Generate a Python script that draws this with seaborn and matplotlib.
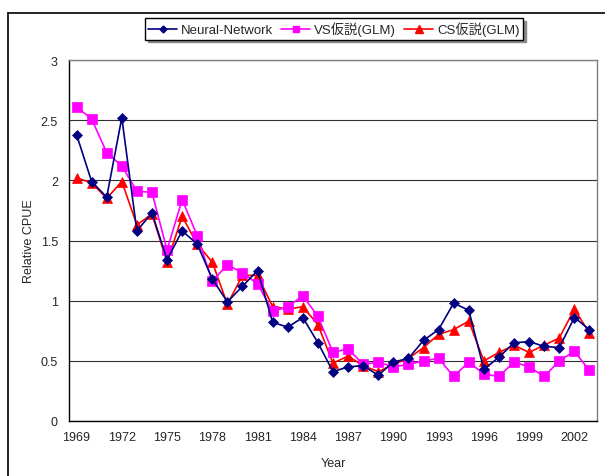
import pandas as pd
import matplotlib.pyplot as plt
import seaborn as sns
from matplotlib.lines import Line2D

years = list(range(1969, 2004))

neural_network = [2.38, 1.99, 1.86, 2.52, 1.58, 1.73, 1.34, 1.58, 1.47, 1.18,
                  0.99, 1.12, 1.25, 0.82, 0.78, 0.86, 0.65, 0.41, 0.45, 0.46,
                  0.38, 0.49, 0.52, 0.67, 0.76, 0.98, 0.92, 0.43, 0.53, 0.65,
                  0.66, 0.62, 0.61, 0.86, 0.76]
vs_glm = [2.61, 2.51, 2.23, 2.12, 1.91, 1.90, 1.42, 1.84, 1.54, 1.16,
          1.30, 1.23, 1.14, 0.91, 0.95, 1.04, 0.87, 0.57, 0.60, 0.47,
          0.49, 0.45, 0.47, 0.50, 0.52, 0.37, 0.49, 0.39, 0.37, 0.49,
          0.45, 0.37, 0.50, 0.58, 0.42]
cs_glm = [2.02, 1.98, 1.85, 1.99, 1.63, 1.72, 1.32, 1.70, 1.47, 1.32,
          0.97, 1.21, 1.21, 0.95, 0.93, 0.95, 0.80, 0.48, 0.54, 0.46,
          0.41, 0.47, 0.52, 0.61, 0.72, 0.76, 0.83, 0.50, 0.57, 0.63,
          0.57, 0.63, 0.69, 0.93, 0.73]

labels = ["Neural-Network", "VS仮説(GLM)", "CS仮説(GLM)"]
colors = ["#000080", "#FF00FF", "#FF0000"]
markers = ["D", "s", "^"]
msizes = [5, 6.5, 7]

sns.set_style("white")
plt.rcParams['font.family'] = ['Liberation Sans', 'Noto Sans CJK JP', 'DejaVu Sans']

df = pd.DataFrame({"Year": years, labels[0]: neural_network,
                   labels[1]: vs_glm, labels[2]: cs_glm})

fig = plt.figure(figsize=(6.05, 4.77), dpi=100)
ax = fig.add_axes([69 / 605, 1 - 422 / 477, (597 - 69) / 605, (422 - 61) / 477])

# draw in reverse so the Neural-Network line sits on top
for lab, c, m, ms in reversed(list(zip(labels, colors, markers, msizes))):
    sns.lineplot(data=df, x="Year", y=lab, ax=ax, color=c, marker=m,
                 markersize=ms, markeredgecolor=c, markeredgewidth=0.5,
                 linewidth=1.2, legend=False)

ax.set_xlim(1968.5, 2003.5)
ax.set_ylim(0, 3)
ax.set_yticks([0, 0.5, 1, 1.5, 2, 2.5, 3])
ax.set_yticklabels(["0", "0.5", "1", "1.5", "2", "2.5", "3"], fontsize=9)
ax.set_xticks(years[::3])
ax.set_xticklabels([str(y) for y in years[::3]], fontsize=9)
ax.set_xticks([y - 0.5 for y in years] + [2003.5], minor=True)
ax.tick_params(axis="x", which="major", length=0, pad=7)
ax.tick_params(axis="x", which="minor", direction="in", length=3, width=0.8, color="black")
ax.tick_params(axis="y", length=0, pad=8)
ax.yaxis.grid(True, color="#303030", linewidth=0.8)
ax.set_axisbelow(True)

for side in ["left", "bottom"]:
    ax.spines[side].set_color("black")
    ax.spines[side].set_linewidth(1)
for side in ["top", "right"]:
    ax.spines[side].set_color("#808080")
    ax.spines[side].set_linewidth(1)

ax.set_xlabel("Year", fontsize=9, labelpad=10)
ax.set_ylabel("Relative CPUE", fontsize=9, labelpad=4)

handles = [Line2D([], [], color=c, marker=m, markersize=ms - 1.5, markeredgecolor=c, linewidth=1.2)
           for c, m, ms in zip(colors, markers, msizes)]
fig.legend(handles, labels, loc="center", bbox_to_anchor=(334 / 605, 1 - 30 / 477),
           ncol=3, frameon=True, fancybox=False, edgecolor="black", fontsize=9.5,
           handlelength=2.2, handletextpad=0.3, columnspacing=0.6, borderpad=0.25,
           borderaxespad=0.2, shadow={"color": "0.55", "alpha": 1})

# outer chart frame (cropped at right and bottom)
fig.add_artist(Line2D([8 / 605, 1.0], [1 - 14 / 477, 1 - 14 / 477], color="black", linewidth=1.2))
fig.add_artist(Line2D([8 / 605, 8 / 605], [1 - 14 / 477, 0.0], color="black", linewidth=1.2))

fig.savefig("out.png", dpi=100)
